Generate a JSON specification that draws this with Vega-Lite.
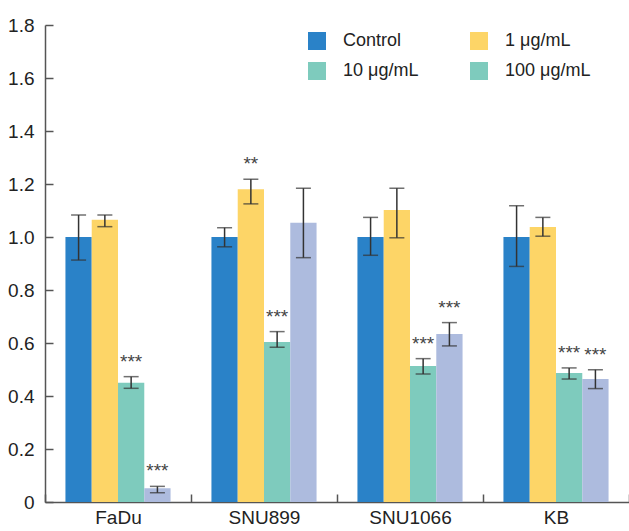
{
  "$schema": "https://vega.github.io/schema/vega-lite/v6.json",
  "width": 584,
  "height": 477,
  "autosize": {"type": "none"},
  "padding": {"left": 45, "top": 25, "right": 0, "bottom": 29},
  "background": "white",
  "config": {
    "view": {"stroke": null},
    "axis": {
      "labelFont": "Liberation Sans",
      "labelFontSize": 19,
      "labelColor": "#222",
      "domainColor": "#555",
      "domainWidth": 1.5,
      "tickColor": "#555",
      "tickWidth": 1.5,
      "grid": false,
      "title": null
    }
  },
  "datasets": {
    "bars": [
      {"cell": "FaDu", "dose": "Control", "value": 1.0, "lo": 0.913, "hi": 1.083, "sig": ""},
      {"cell": "FaDu", "dose": "1 μg/mL", "value": 1.065, "lo": 1.039, "hi": 1.083, "sig": ""},
      {"cell": "FaDu", "dose": "10 μg/mL", "value": 0.45, "lo": 0.429, "hi": 0.473, "sig": "***"},
      {"cell": "FaDu", "dose": "100 μg/mL", "value": 0.052, "lo": 0.035, "hi": 0.059, "sig": "***"},
      {"cell": "SNU899", "dose": "Control", "value": 1.0, "lo": 0.963, "hi": 1.035, "sig": ""},
      {"cell": "SNU899", "dose": "1 μg/mL", "value": 1.18, "lo": 1.125, "hi": 1.218, "sig": "**"},
      {"cell": "SNU899", "dose": "10 μg/mL", "value": 0.604, "lo": 0.584, "hi": 0.643, "sig": "***"},
      {"cell": "SNU899", "dose": "100 μg/mL", "value": 1.054, "lo": 0.922, "hi": 1.184, "sig": ""},
      {"cell": "SNU1066", "dose": "Control", "value": 1.0, "lo": 0.931, "hi": 1.074, "sig": ""},
      {"cell": "SNU1066", "dose": "1 μg/mL", "value": 1.102, "lo": 0.997, "hi": 1.184, "sig": ""},
      {"cell": "SNU1066", "dose": "10 μg/mL", "value": 0.513, "lo": 0.483, "hi": 0.541, "sig": "***"},
      {"cell": "SNU1066", "dose": "100 μg/mL", "value": 0.634, "lo": 0.589, "hi": 0.677, "sig": "***"},
      {"cell": "KB", "dose": "Control", "value": 1.0, "lo": 0.889, "hi": 1.118, "sig": ""},
      {"cell": "KB", "dose": "1 μg/mL", "value": 1.038, "lo": 1.003, "hi": 1.074, "sig": ""},
      {"cell": "KB", "dose": "10 μg/mL", "value": 0.487, "lo": 0.464, "hi": 0.506, "sig": "***"},
      {"cell": "KB", "dose": "100 μg/mL", "value": 0.464, "lo": 0.428, "hi": 0.499, "sig": "***"}
    ],
    "legendEntries": [
      {"key": "Control"},
      {"key": "1 μg/mL"},
      {"key": "10 μg/mL"},
      {"key": "100 μg/mL"}
    ]
  },
  "layer": [
    {
      "data": {"name": "bars"},
      "mark": {"type": "bar"},
      "encoding": {
        "x": {"field": "cell", "type": "nominal", "sort": ["FaDu", "SNU899", "SNU1066", "KB"], "scale": {"paddingInner": 0, "paddingOuter": 0}, "axis": {"labelAngle": 0, "tickBand": "extent", "tickSize": -8, "labelPadding": 14}},
        "xOffset": {"field": "dose", "type": "nominal", "sort": ["Control", "1 μg/mL", "10 μg/mL", "100 μg/mL"], "scale": {"paddingOuter": 0.778, "paddingInner": 0}},
        "y": {
          "field": "value",
          "type": "quantitative",
          "scale": {"domain": [0, 1.8], "nice": false},
          "axis": {"values": [0, 0.2, 0.4, 0.6, 0.8, 1.0, 1.2, 1.4, 1.6, 1.8], "tickSize": -8, "labelPadding": 19, "labelExpr": "datum.value == 0 ? '0' : format(datum.value, '.1f')"}
        },
        "color": {
          "field": "dose",
          "type": "nominal",
          "sort": ["Control", "1 μg/mL", "10 μg/mL", "100 μg/mL"],
          "scale": {"range": ["#2a82c8", "#fdd567", "#7ecbbd", "#adbbde"]},
          "legend": null
        }
      }
    },
    {
      "data": {"name": "bars"},
      "mark": {"type": "rule", "color": "#333", "strokeWidth": 1.5},
      "encoding": {
        "x": {"field": "cell", "type": "nominal", "sort": ["FaDu", "SNU899", "SNU1066", "KB"]},
        "xOffset": {"field": "dose", "type": "nominal", "sort": ["Control", "1 μg/mL", "10 μg/mL", "100 μg/mL"]},
        "y": {"field": "lo", "type": "quantitative"},
        "y2": {"field": "hi"}
      }
    },
    {
      "data": {"name": "bars"},
      "mark": {"type": "tick", "color": "#333", "thickness": 1.5, "size": 15, "orient": "horizontal"},
      "encoding": {
        "x": {"field": "cell", "type": "nominal", "sort": ["FaDu", "SNU899", "SNU1066", "KB"]},
        "xOffset": {"field": "dose", "type": "nominal", "sort": ["Control", "1 μg/mL", "10 μg/mL", "100 μg/mL"]},
        "y": {"field": "lo", "type": "quantitative"}
      }
    },
    {
      "data": {"name": "bars"},
      "mark": {"type": "tick", "color": "#333", "thickness": 1.5, "size": 15, "orient": "horizontal"},
      "encoding": {
        "x": {"field": "cell", "type": "nominal", "sort": ["FaDu", "SNU899", "SNU1066", "KB"]},
        "xOffset": {"field": "dose", "type": "nominal", "sort": ["Control", "1 μg/mL", "10 μg/mL", "100 μg/mL"]},
        "y": {"field": "hi", "type": "quantitative"}
      }
    },
    {
      "data": {"name": "bars"},
      "transform": [{"filter": "datum.sig != ''"}],
      "mark": {"type": "text", "font": "Liberation Sans", "fontSize": 19, "color": "#444", "baseline": "alphabetic", "dy": -9},
      "encoding": {
        "x": {"field": "cell", "type": "nominal", "sort": ["FaDu", "SNU899", "SNU1066", "KB"]},
        "xOffset": {"field": "dose", "type": "nominal", "sort": ["Control", "1 μg/mL", "10 μg/mL", "100 μg/mL"]},
        "y": {"field": "hi", "type": "quantitative"},
        "text": {"field": "sig"}
      }
    },
    {
      "data": {"name": "legendEntries"},
      "mark": {"type": "square", "size": 0, "opacity": 1},
      "encoding": {
        "fill": {
          "field": "key",
          "type": "nominal",
          "scale": {"domain": ["Control", "1 μg/mL", "10 μg/mL", "100 μg/mL"], "range": ["#2a82c8", "#fdd567", "#7ecbbd", "#7ecbbd"]},
          "legend": {
            "title": null,
            "orient": "none",
            "direction": "horizontal",
            "legendX": 263,
            "legendY": 7,
            "columns": 2,
            "columnPadding": 51,
            "rowPadding": 12,
            "symbolType": "square",
            "symbolSize": 324,
            "symbolStrokeWidth": 0,
            "symbolOpacity": 1,
            "labelOffset": 17,
            "labelFont": "Liberation Sans",
            "labelFontSize": 18,
            "labelColor": "#222",
            "padding": 0
          }
        }
      }
    }
  ]
}
